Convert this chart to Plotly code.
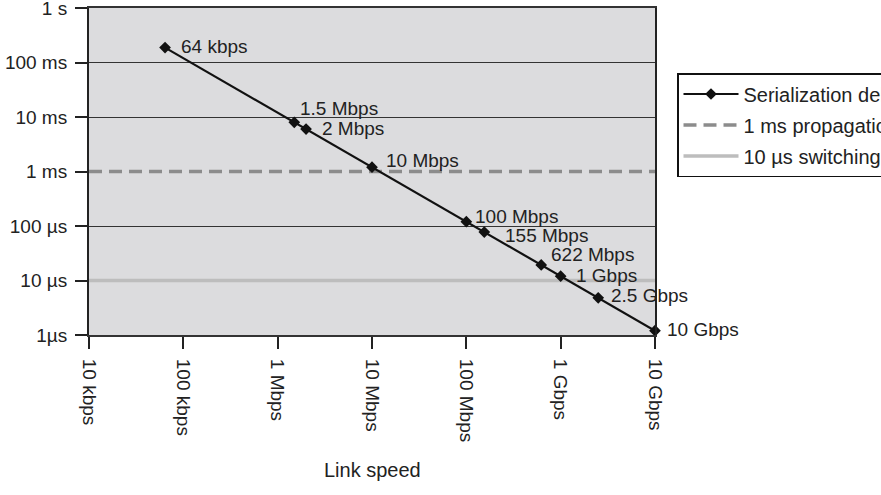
import math
import plotly.graph_objects as go

# ---- data ----
speed_labels = ["64 kbps", "1.5 Mbps", "2 Mbps", "10 Mbps", "100 Mbps",
                "155 Mbps", "622 Mbps", "1 Gbps", "2.5 Gbps", "10 Gbps"]
speeds_bps = [64e3, 1.5e6, 2e6, 10e6, 100e6, 155e6, 622e6, 1e9, 2.5e9, 10e9]
serialization_s = [0.1875, 0.008, 0.006, 0.0012, 0.00012, 0.0000774,
                   0.0000193, 0.000012, 0.0000048, 0.0000012]
propagation_s = 1e-3
switching_s = 1e-5

x_tick_vals = [1e4, 1e5, 1e6, 1e7, 1e8, 1e9, 1e10]
x_tick_text = ["10 kbps", "100 kbps", "1 Mbps", "10 Mbps", "100 Mbps", "1 Gbps", "10 Gbps"]
y_tick_vals = [1e-6, 1e-5, 1e-4, 1e-3, 1e-2, 1e-1, 1]
y_tick_text = ["1µs", "10 µs", "100 µs", "1 ms", "10 ms", "100 ms", "1 s"]
y_grid_vals = [1e-4, 1e-2, 1e-1]

# label placement (pixels) relative to each point
label_dx = [14, 4, 14, 12, 7, 19, 8, 13, 11, 10]
label_dy = [1, 14, 1, 7, 5, -3, 10, 1, 2, 1]

FONT = "Liberation Sans, Arial, sans-serif"
fig = go.Figure()

fig.add_trace(go.Scatter(
    x=[x_tick_vals[0], x_tick_vals[-1]], y=[propagation_s, propagation_s],
    mode="lines", name="1 ms propagation delay", legendgroup="b", legendrank=2,
    line=dict(color="#8c8c8c", width=3.5, dash="13px,7px"),
    cliponaxis=False))
fig.add_trace(go.Scatter(
    x=[x_tick_vals[0], x_tick_vals[-1]], y=[switching_s, switching_s],
    mode="lines", name="10 µs switching delay", legendgroup="c", legendrank=3,
    line=dict(color="#bdbdbd", width=3.5),
    cliponaxis=False))
fig.add_trace(go.Scatter(
    x=speeds_bps, y=serialization_s, mode="lines+markers",
    name="Serialization delay", legendgroup="a", legendrank=1,
    line=dict(color="#111111", width=2.2),
    marker=dict(symbol="diamond", size=9, color="#111111"),
    cliponaxis=False))

for lab, xv, yv, dx, dy in zip(speed_labels, speeds_bps, serialization_s, label_dx, label_dy):
    fig.add_annotation(x=math.log10(xv), y=math.log10(yv), xref="x", yref="y",
                       text=lab, showarrow=False, xanchor="left", yanchor="middle",
                       xshift=dx, yshift=dy,
                       font=dict(family=FONT, size=19, color="#222222"))

fig.add_annotation(x=0.5, y=(335 - 470) / 327, xref="paper", yref="paper",
                   text="Link speed", showarrow=False, xanchor="center", yanchor="middle",
                   font=dict(family=FONT, size=20, color="#222222"))

fig.update_xaxes(type="log", range=[4, 10], tickvals=x_tick_vals, ticktext=x_tick_text,
                 tickangle=90, ticks="outside", ticklen=12, tickwidth=2, tickcolor="#222",
                 showgrid=False, zeroline=False, showline=True, linecolor="#333",
                 linewidth=2, mirror=True, ticklabelstandoff=6,
                 ticklabeloverflow="allow",
                 tickfont=dict(family=FONT, size=19, color="#222222"))
fig.update_yaxes(type="log", range=[-6, 0], tickvals=y_tick_vals, ticktext=y_tick_text,
                 ticks="outside", ticklen=12, tickwidth=2, tickcolor="#222",
                 showgrid=False, zeroline=False,
                 minor=dict(tickvals=y_grid_vals, showgrid=True, gridcolor="#333333",
                            gridwidth=1, ticks=""),
                 showline=True, linecolor="#222", linewidth=2, mirror=True,
                 ticklabelstandoff=4, ticklabeloverflow="allow",
                 tickfont=dict(family=FONT, size=19, color="#222222"))

fig.update_layout(
    width=881, height=495,
    margin=dict(l=89, r=226, t=8, b=160, autoexpand=False),
    paper_bgcolor="white", plot_bgcolor="#dcdcde",
    showlegend=True,
    legend=dict(x=(677 - 89) / 566, y=(335 - 73) / 327, xanchor="left", yanchor="top",
                bgcolor="white", bordercolor="#111", borderwidth=1.5,
                font=dict(family=FONT, size=20, color="#222222"),
                traceorder="grouped", tracegroupgap=2, itemwidth=55),
    font=dict(family=FONT),
)

fig.write_html("out.html")
